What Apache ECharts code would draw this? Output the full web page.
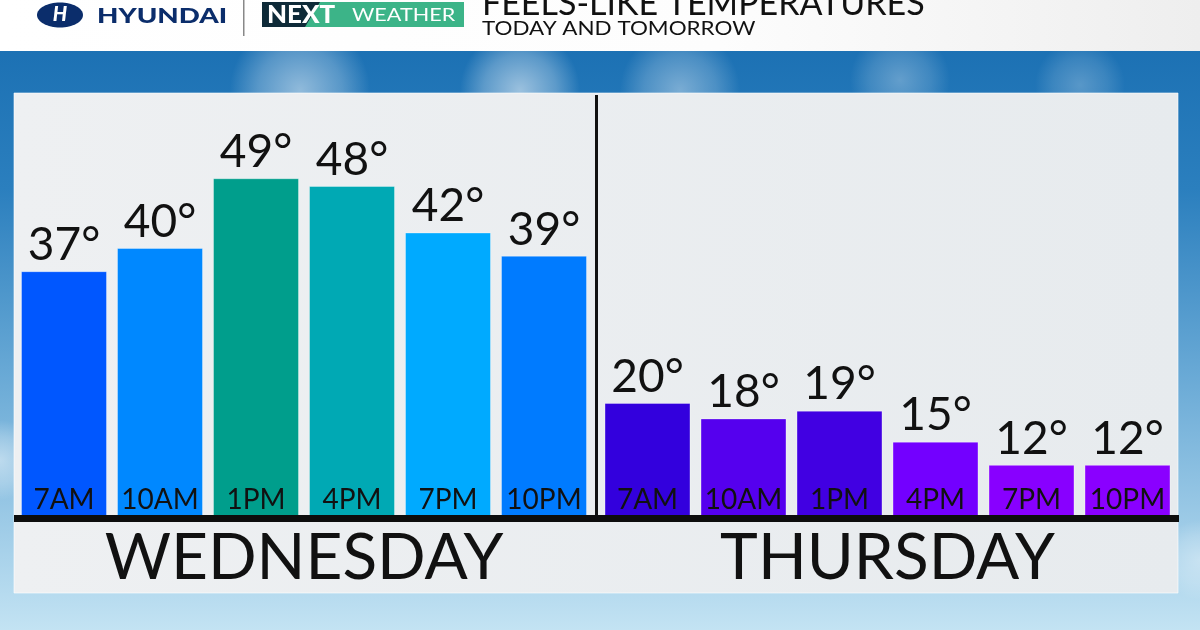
<!DOCTYPE html>
<html>
<head>
<meta charset="utf-8">
<style>
  html, body { margin: 0; padding: 0; background: #ffffff; }
  #chart { width: 1200px; height: 630px; }
</style>
<script src="https://cdn.jsdelivr.net/npm/echarts@6/dist/echarts.min.js"></script>
</head>
<body>
<div id="chart"></div>
<script>
// ---- data ----
const days = ['WEDNESDAY', 'THURSDAY'];
const wedTimes = ['7AM', '10AM', '1PM', '4PM', '7PM', '10PM'];
const wedTemps = [37, 40, 49, 48, 42, 39];
const thuTimes = ['7AM', '10AM', '1PM', '4PM', '7PM', '10PM'];
const thuTemps = [20, 18, 19, 15, 12, 12];
const wedColors = ['#0057ff', '#0088ff', '#009e8c', '#00a9b4', '#00aaff', '#007bff'];
const thuColors = ['#3300dd', '#5500ee', '#4100e2', '#7300ff', '#8800ff', '#8a00ff'];
const title = 'FEELS-LIKE TEMPERATURES';
const subtitle = 'TODAY AND TOMORROW';

const FONT = 'Lato, "Open Sans", sans-serif';
const chart = echarts.init(document.getElementById('chart'), null, { renderer: 'canvas' });

function seriesData(vals, colors) {
  return vals.map((v, i) => ({ value: v, itemStyle: { color: colors[i] } }));
}

const yCommon = {
  type: 'value', min: 5.4, max: 60,
  show: false, splitLine: { show: false }
};
function xAxis(gridIndex, cats, name) {
  return {
    type: 'category', gridIndex: gridIndex, data: cats, z: 8,
    axisLine: { show: false }, axisTick: { show: false },
    axisLabel: { inside: true, margin: 2, color: '#111', fontFamily: FONT, fontSize: 28, interval: 0 },
    name: name, nameLocation: 'middle', nameGap: 10,
    nameTextStyle: { color: '#111', fontFamily: FONT, fontSize: 64 }
  };
}
const barLabel = {
  show: true, position: 'top', distance: 3,
  color: '#111', fontFamily: FONT, fontSize: 46,
  formatter: p => p.value + '°'
};

function cloud(cx, cy, rx, ry, a) {
  return { type: 'ellipse', z: -19, shape: { cx: cx, cy: cy, rx: rx, ry: ry },
    style: { fill: new echarts.graphic.RadialGradient(0.5, 0.5, 0.5, [
      { offset: 0, color: 'rgba(255,255,255,' + a + ')' }, { offset: 0.6, color: 'rgba(255,255,255,' + (a * 0.5) + ')' },
      { offset: 1, color: 'rgba(255,255,255,0)' }]) } };
}

const graphic = [
  // sky background
  { type: 'rect', z: -20, shape: { x: 0, y: 0, width: 1200, height: 630 },
    style: { fill: new echarts.graphic.LinearGradient(0, 0, 0, 1, [
      { offset: 0, color: '#176cb0' }, { offset: 0.3, color: '#2b7fbe' },
      { offset: 0.6, color: '#6aaad6' }, { offset: 1, color: '#c3e3f3' }]) } },
  cloud(300, 90, 70, 70, 0.5),
  cloud(520, 90, 60, 70, 0.55),
  cloud(680, 90, 90, 60, 0.4),
  cloud(900, 80, 90, 50, 0.3),
  cloud(1080, 85, 120, 45, 0.25),
  cloud(0, 460, 40, 110, 0.45),
  cloud(1200, 560, 40, 100, 0.35),
  // header
  { type: 'rect', z: -10, shape: { x: 0, y: 0, width: 1200, height: 51 },
    style: { fill: new echarts.graphic.LinearGradient(0, 0, 1, 0, [
      { offset: 0, color: '#ffffff' }, { offset: 0.6, color: '#fdfdfd' }, { offset: 1, color: '#eeeeee' }]) } },
  // Hyundai logo
  { type: 'ellipse', z: 5, shape: { cx: 60, cy: 15, rx: 23, ry: 12.5 }, style: { fill: '#0b2d6b' } },
  { type: 'text', z: 6, x: 60, y: 15, style: { text: 'H', fill: '#ffffff', font: 'italic 900 20px ' + FONT, align: 'center', verticalAlign: 'middle' } },
  { type: 'text', z: 6, x: 97, y: 16, scaleX: 1.32, style: { text: 'HYUNDAI', fill: '#0b2d6b', font: '900 21px ' + FONT, align: 'left', verticalAlign: 'middle' } },
  { type: 'rect', z: 5, shape: { x: 243, y: 0, width: 1.5, height: 36 }, style: { fill: '#888888' } },
  // Next weather logo
  { type: 'rect', z: 5, shape: { x: 262, y: 2, width: 202, height: 25 }, style: { fill: '#3cb488' } },
  { type: 'polygon', z: 5, shape: { points: [[262, 2], [320, 2], [305, 27], [262, 27]] }, style: { fill: '#0e2a38' } },
  { type: 'text', z: 6, x: 267, y: 15, scaleX: 1.08, style: { text: 'NEXT', fill: '#ffffff', font: '900 24px ' + FONT, align: 'left', verticalAlign: 'middle' } },
  { type: 'text', z: 6, x: 352, y: 15, scaleX: 1.2, style: { text: 'WEATHER', fill: '#ffffff', font: '400 18px ' + FONT, align: 'left', verticalAlign: 'middle' } },
  // titles
  { type: 'text', z: 6, x: 482, y: 4, style: { text: title, fill: '#111111', font: '400 34px ' + FONT, align: 'left', verticalAlign: 'middle' } },
  { type: 'text', z: 6, x: 482, y: 29, scaleX: 1.12, style: { text: subtitle, fill: '#111111', font: '400 20px ' + FONT, align: 'left', verticalAlign: 'middle' } },
  // panel
  { type: 'rect', z: -5, shape: { x: 14, y: 93, width: 1164, height: 500 },
    style: { fill: new echarts.graphic.LinearGradient(0, 0, 1, 0, [
      { offset: 0, color: '#eef0f2' }, { offset: 1, color: '#e7ebee' }]), stroke: 'rgba(255,255,255,0.6)', lineWidth: 1 } },
  // divider and baseline
  { type: 'rect', z: 10, shape: { x: 595, y: 95, width: 3, height: 422 }, style: { fill: '#111111' } },
  { type: 'rect', z: 10, shape: { x: 14, y: 515, width: 1165, height: 7 }, style: { fill: '#0d0d0d' } }
];

const option = {
  animation: false,
  backgroundColor: 'transparent',
  graphic: graphic,
  grid: [
    { left: 16, width: 576, top: 93, bottom: 114 },
    { left: 599.5, width: 576, top: 93, bottom: 114 }
  ],
  xAxis: [ xAxis(0, wedTimes, days[0]), xAxis(1, thuTimes, days[1]) ],
  yAxis: [ Object.assign({ gridIndex: 0 }, yCommon), Object.assign({ gridIndex: 1 }, yCommon) ],
  series: [
    { type: 'bar', xAxisIndex: 0, yAxisIndex: 0, barWidth: 86, data: seriesData(wedTemps, wedColors),
      itemStyle: { borderColor: 'rgba(255,255,255,0.35)', borderWidth: 1 }, label: barLabel },
    { type: 'bar', xAxisIndex: 1, yAxisIndex: 1, barWidth: 86, data: seriesData(thuTemps, thuColors),
      itemStyle: { borderColor: 'rgba(255,255,255,0.35)', borderWidth: 1 }, label: barLabel }
  ]
};
chart.setOption(option);
</script>
</body>
</html>
